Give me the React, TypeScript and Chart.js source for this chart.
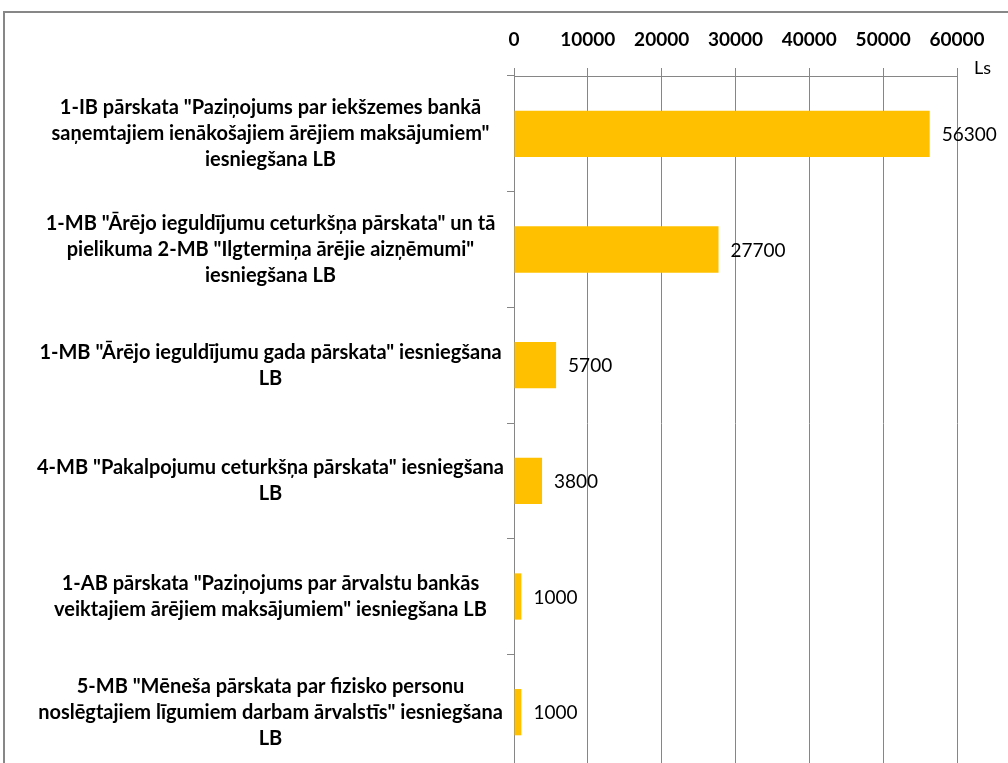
import React, { useEffect, useRef } from "react";
import { Chart, registerables } from "chart.js";

Chart.register(...registerables);

const categories: string[][] = [
  ["1-IB pārskata \"Paziņojums par iekšzemes bankā", "saņemtajiem ienākošajiem ārējiem maksājumiem\"", "iesniegšana LB"],
  ["1-MB \"Ārējo ieguldījumu ceturkšņa pārskata\" un tā", "pielikuma 2-MB \"Ilgtermiņa ārējie aizņēmumi\"", "iesniegšana LB"],
  ["1-MB \"Ārējo ieguldījumu gada pārskata\" iesniegšana", "LB"],
  ["4-MB \"Pakalpojumu ceturkšņa pārskata\" iesniegšana", "LB"],
  ["1-AB pārskata \"Paziņojums par ārvalstu bankās", "veiktajiem ārējiem maksājumiem\" iesniegšana LB"],
  ["5-MB \"Mēneša pārskata par fizisko personu", "noslēgtajiem līgumiem darbam ārvalstīs\" iesniegšana", "LB"],
];
const values: number[] = [56300, 27700, 5700, 3800, 1000, 1000];
const axisMin = 0;
const axisMax = 60000;
const axisStep = 10000;
const unitLabel = "Ls";

const FONT = "Lato, 'Noto Sans', sans-serif";
const GRID = "#868686";

export default function App() {
  const ref = useRef<HTMLCanvasElement>(null);
  useEffect(() => {
    if (!ref.current) return;
    const extras = {
      id: "extras",
      afterDatasetsDraw(chart: any) {
        const ctx = chart.ctx;
        const meta = chart.getDatasetMeta(0);
        ctx.save();
        ctx.fillStyle = "#000";
        ctx.font = `19px ${FONT}`;
        ctx.textAlign = "left";
        ctx.textBaseline = "middle";
        meta.data.forEach((bar: any, i: number) => {
          ctx.fillText(String(values[i]), bar.x + 12, bar.y + 1);
        });
        const ca = chart.chartArea;
        ctx.font = `18px ${FONT}`;
        ctx.textBaseline = "alphabetic";
        ctx.fillText(unitLabel, ca.right + 17, ca.top - 2);
        ctx.restore();
      },
    };
    const chart = new Chart(ref.current, {
      type: "bar",
      data: {
        labels: categories,
        datasets: [
          {
            data: values,
            backgroundColor: "#FFC000",
            borderWidth: 0,
            categoryPercentage: 1,
            barPercentage: 0.4,
          },
        ],
      },
      options: {
        indexAxis: "y",
        animation: false,
        responsive: false,
        layout: { padding: { left: 20, right: 51, top: 0, bottom: 10 } },
        plugins: { legend: { display: false }, tooltip: { enabled: false } },
        scales: {
          x: {
            position: "top",
            min: axisMin,
            max: axisMax,
            ticks: {
              stepSize: axisStep,
              color: "#000",
              font: { family: FONT, size: 19, weight: "bold" },
              padding: 17,
              callback: (v: any) => String(v),
            },
            grid: { color: GRID, lineWidth: 1, tickLength: 8 },
            border: { color: GRID, width: 1 },
            afterFit(scale: any) {
              scale.height = 76;
              scale.paddingLeft = 0;
              scale.paddingRight = 0;
            },
          },
          y: {
            ticks: {
              color: "#000",
              font: { family: FONT, size: 20, weight: "bold", lineHeight: "26px" },
              crossAlign: "center",
              autoSkip: false,
            },
            grid: { offset: true, drawOnChartArea: false, color: GRID, tickLength: 7 },
            border: { color: GRID, width: 1 },
            afterFit(scale: any) {
              scale.width = 494;
              scale.paddingTop = 0;
              scale.paddingBottom = 0;
            },
          },
        },
      },
      plugins: [extras],
    });
    return () => chart.destroy();
  }, []);
  return (
    <div style={{ position: "absolute", left: 0, top: 0, width: 1008, height: 763, overflow: "hidden", background: "#fff" }}>
      <div
        style={{
          position: "absolute",
          left: 3,
          top: 11,
          width: 1100,
          height: 900,
          border: "2px solid #878787",
          boxSizing: "border-box",
        }}
      />
      <canvas ref={ref} width={1008} height={780} style={{ position: "absolute", left: 0, top: 0 }} />
    </div>
  );
}
